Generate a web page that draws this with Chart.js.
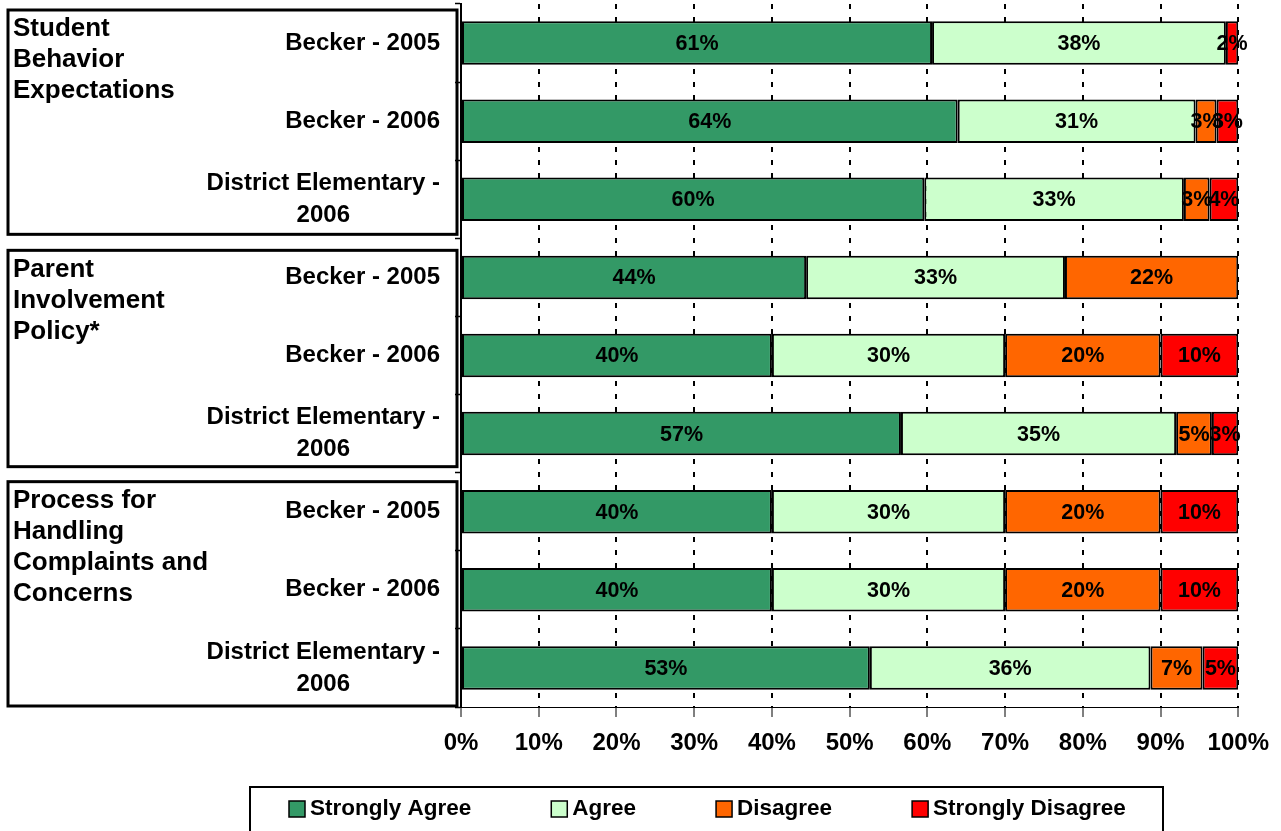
<!DOCTYPE html>
<html>
<head>
<meta charset="utf-8">
<script src="https://cdn.jsdelivr.net/npm/chart.js@4.4.0/dist/chart.umd.min.js"></script>
<style>
  html, body { margin: 0; padding: 0; background: #fff; }
  #wrap { width: 1281px; height: 831px; }
</style>
</head>
<body>
<div id="wrap"><canvas id="surveyChart" width="1281" height="831"></canvas></div>
<script>
    const FONT = "'Liberation Sans', Arial, sans-serif";

    // categories (one per bar, top to bottom)
    const categories = [
        ['Becker - 2005'], ['Becker - 2006'], ['District Elementary -', '2006'],
        ['Becker - 2005'], ['Becker - 2006'], ['District Elementary -', '2006'],
        ['Becker - 2005'], ['Becker - 2006'], ['District Elementary -', '2006']
    ];
    const groupNames = [
        ['Student', 'Behavior', 'Expectations'],
        ['Parent', 'Involvement', 'Policy*'],
        ['Process for', 'Handling', 'Complaints and', 'Concerns']
    ];
    const seriesNames = ['Strongly Agree', 'Agree', 'Disagree', 'Strongly Disagree'];
    const seriesColors = ['#339966', '#CCFFCC', '#FF6600', '#FF0000'];

    // percentages
    const stronglyAgree    = [60.6, 63.9, 59.6, 44.4, 40, 56.6, 40, 40, 52.6];
    const agree            = [37.8, 30.6, 33.4, 33.3, 30, 35.4, 30, 30, 36.1];
    const disagree         = [null, 2.7, 3.3, 22.3, 20, 4.6, 20, 20, 6.7];
    const stronglyDisagree = [1.6, 2.8, 3.7, null, 10, 3.4, 10, 10, 4.6];

    const xTickLabels = ['0%', '10%', '20%', '30%', '40%', '50%', '60%', '70%', '80%', '90%', '100%'];

    const seriesData = [stronglyAgree, agree, disagree, stronglyDisagree];

    // boxes + group titles + category labels on the left
    const sideLabels = {
        id: 'sideLabels',
        afterDraw(chart) {
            const ctx = chart.ctx;
            const y = chart.scales.y;
            const step = y.height / categories.length;
            const padTop = [6, 12, 9], padBottom = [4, 6, 1];
            ctx.save();
            groupNames.forEach((lines, g) => {
                const top = y.top + g * 3 * step + padTop[g];
                const bottom = y.top + (g + 1) * 3 * step - padBottom[g];
                ctx.lineWidth = 3;
                ctx.strokeStyle = '#000';
                ctx.strokeRect(8, top, 449, bottom - top);
                ctx.fillStyle = '#000';
                ctx.font = 'bold 26px ' + FONT;
                ctx.textAlign = 'left';
                ctx.textBaseline = 'middle';
                lines.forEach((t, k) => ctx.fillText(t, 13, top + 19 + k * 31));
            });
            // category labels
            ctx.font = 'bold 24px ' + FONT;
            ctx.textAlign = 'center';
            categories.forEach((lines, i) => {
                const cy = y.getPixelForValue(i);
                const w = ctx.measureText(lines[0]).width;
                const cx = 440 - w / 2;
                const off = (lines.length - 1) * 16;
                lines.forEach((t, k) => ctx.fillText(t, cx, cy - off + k * 32));
            });
            ctx.restore();
        }
    };

    // percent labels inside the bars
    const barLabels = {
        id: 'barLabels',
        afterDatasetsDraw(chart) {
            const ctx = chart.ctx;
            ctx.save();
            ctx.font = 'bold 21.5px ' + FONT;
            ctx.fillStyle = '#000';
            ctx.textAlign = 'center';
            ctx.textBaseline = 'middle';
            chart.data.datasets.forEach((ds, d) => {
                const meta = chart.getDatasetMeta(d);
                meta.data.forEach((el, i) => {
                    const v = ds.data[i];
                    if (v == null) return;
                    const p = el.getCenterPoint();
                    ctx.fillText(Math.round(v) + '%', p.x, p.y + 1);
                });
            });
            ctx.restore();
        }
    };

    // legend drawn in a framed box under the axis
    const boxLegend = {
        id: 'boxLegend',
        afterDraw(chart) {
            const ctx = chart.ctx;
            ctx.save();
            ctx.lineWidth = 2;
            ctx.strokeStyle = '#000';
            ctx.strokeRect(250, 787, 913, 50);
            ctx.font = 'bold 22.5px ' + FONT;
            ctx.textAlign = 'left';
            ctx.textBaseline = 'middle';
            let x = 289;
            chart.data.datasets.forEach(ds => {
                ctx.fillStyle = ds.backgroundColor;
                ctx.fillRect(x, 801, 16, 16);
                ctx.lineWidth = 1.5;
                ctx.strokeRect(x, 801, 16, 16);
                ctx.fillStyle = '#000';
                ctx.fillText(ds.label, x + 21, 809);
                x += 21 + ctx.measureText(ds.label).width + 80;
            });
            ctx.restore();
        }
    };

    const ctx = document.getElementById('surveyChart').getContext('2d');
    const surveyChart = new Chart(ctx, {
        type: 'bar',
        data: {
            labels: categories,
            datasets: seriesNames.map((name, k) => ({
                label: name,
                data: seriesData[k],
                backgroundColor: seriesColors[k],
                borderColor: '#000',
                borderWidth: 2,
                borderSkipped: false,
                inflateAmount: 0,
                barPercentage: 0.557,
                categoryPercentage: 1
            }))
        },
        options: {
            indexAxis: 'y',
            responsive: false,
            animation: false,
            layout: { padding: { left: 0, right: 42, top: 4, bottom: 0 } },
            plugins: {
                legend: { display: false },
                tooltip: { enabled: false }
            },
            scales: {
                x: {
                    stacked: true,
                    min: 0,
                    max: 100,
                    ticks: {
                        stepSize: 10,
                        padding: 12,
                        color: '#000',
                        font: { family: FONT, size: 24, weight: 'bold' },
                        callback: (v, i) => xTickLabels[i]
                    },
                    grid: {
                        color: '#000',
                        lineWidth: 2,
                        tickLength: 10,
                        tickWidth: 1,
                        tickColor: '#000'
                    },
                    border: { display: true, color: '#000', width: 1, dash: [5, 8] },
                    afterFit: s => { s.height = 124; }
                },
                y: {
                    stacked: true,
                    ticks: { display: false },
                    grid: {
                        drawOnChartArea: false,
                        offset: true,
                        tickLength: 6,
                        tickColor: '#000',
                        tickWidth: 1.5
                    },
                    border: { display: true, color: '#000', width: 2 },
                    afterFit: s => { s.width = 461; }
                }
            }
        },
        plugins: [sideLabels, barLabels, boxLegend]
    });
</script>
</body>
</html>
